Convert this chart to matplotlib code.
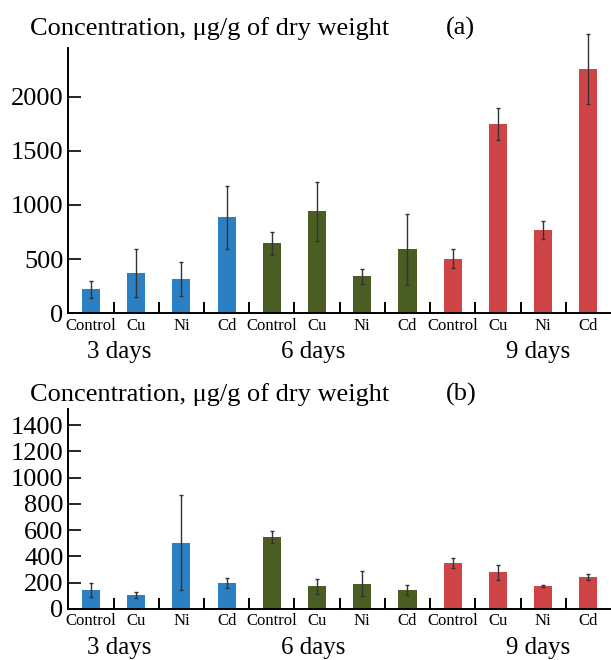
import numpy as np
import matplotlib
matplotlib.use("Agg")
import matplotlib.pyplot as plt

plt.rcParams['font.family'] = ['Liberation Serif', 'DejaVu Serif']

metals = ["Control", "Cu", "Ni", "Cd"] * 3
days = ["3 days", "6 days", "9 days"]
group_colors = ["#2b80c3", "#4a5d23", "#cf4547"]

# panel (a)
vals_a = [220, 370, 315, 885, 645, 940, 340, 590, 505, 1745, 766, 2255]
err_a = [75, 220, 155, 290, 105, 275, 70, 325, 90, 145, 85, 325]
# panel (b)
vals_b = [142, 104, 504, 199, 547, 172, 193, 142, 350, 280, 176, 244]
err_b = [52, 22, 360, 36, 45, 55, 93, 37, 38, 58, 6, 20]

ylabel = "Concentration, \u03bcg/g of dry weight"


def draw_panel(fig, ax, vals, errs, yticks, ytop, letter, title_y):
    x = np.arange(len(vals))
    colors = [group_colors[i // 4] for i in range(len(vals))]
    ax.bar(x, vals, width=0.4, color=colors)
    ax.errorbar(x, vals, yerr=errs, fmt='none', ecolor='#333333',
                elinewidth=1.0, capsize=1.5, capthick=1.0, clip_on=False)
    ax.set_xlim(-0.5, len(vals) - 0.5)
    ax.set_ylim(0, ytop)
    ax.set_yticks(yticks)
    ax.tick_params(axis='y', direction='in', length=9, width=1.2,
                   labelsize=19, pad=3.5)
    # ticks between slots, pointing up
    ax.set_xticks(np.arange(0.5, len(vals) - 0.5, 1.0))
    ax.set_xticklabels([])
    ax.tick_params(axis='x', direction='in', length=8, width=1.4)
    for i, m in enumerate(metals):
        ax.annotate(m, xy=(i, 0), xycoords=('data', 'axes fraction'),
                    xytext=(0, -9), textcoords='offset points',
                    ha='center', va='center', fontsize=12)
    for xd, d in zip([0.62, 4.91, 9.88], days):
        ax.annotate(d, xy=(xd, 0), xycoords=('data', 'axes fraction'),
                    xytext=(0, -28), textcoords='offset points',
                    ha='center', va='center', fontsize=18)
    for s in ['top', 'right']:
        ax.spines[s].set_visible(False)
    for s in ['left', 'bottom']:
        ax.spines[s].set_linewidth(1.4)
    fig.text(0.049, title_y, ylabel, ha='left', va='baseline', fontsize=19)
    fig.text(0.730, title_y, "(" + letter + ")", ha='left', va='baseline',
             fontsize=19)


fig = plt.figure(figsize=(6.11, 6.6), dpi=100)
ax_a = fig.add_axes([0.1118, 0.5253, 0.8882, 0.4015])
ax_b = fig.add_axes([0.1118, 0.0773, 0.8882, 0.3026])

draw_panel(fig, ax_a, vals_a, err_a, [0, 500, 1000, 1500, 2000], 2445, "a",
           1 - 35 / 660)
draw_panel(fig, ax_b, vals_b, err_b, list(range(0, 1401, 200)), 1520, "b",
           1 - 401 / 660)

fig.savefig("out.png", dpi=100)
